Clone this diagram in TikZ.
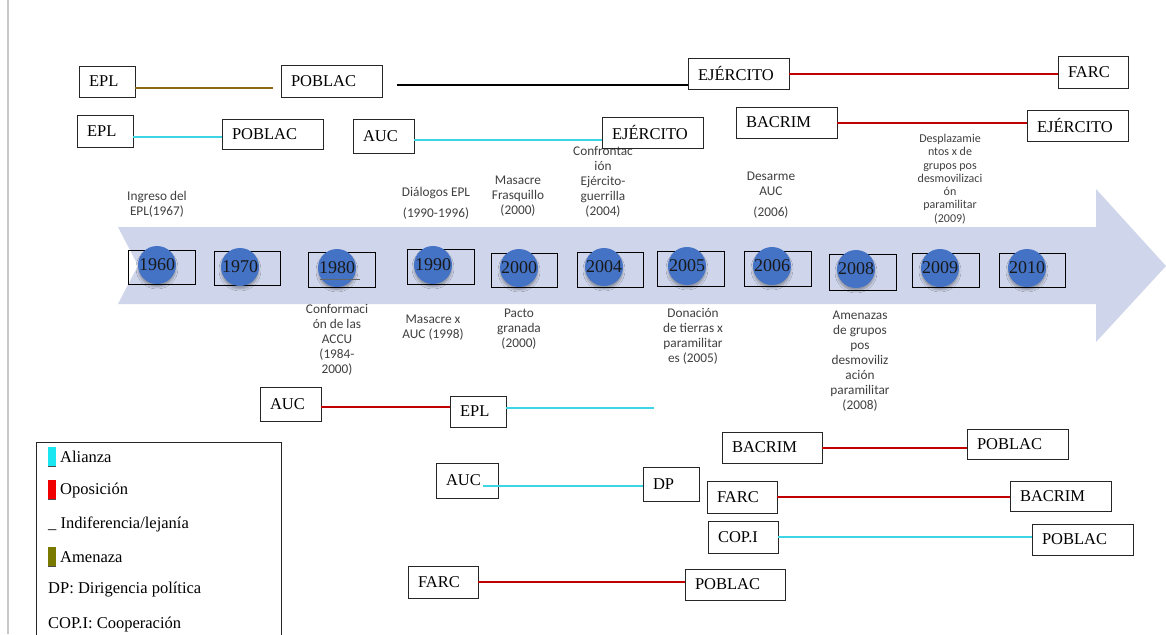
\documentclass[tikz,border=0pt]{standalone}
\usepackage{fontspec}
\setmainfont{Liberation Serif}
\newfontfamily\evfont{Carlito}
\usetikzlibrary{shadows.blur,calc}
\definecolor{alz}{HTML}{3DD5E3}
\definecolor{alzleg}{HTML}{19E6F0}
\definecolor{opo}{HTML}{C00000}
\definecolor{opoleg}{HTML}{F00000}
\definecolor{ame}{HTML}{8B6914}
\definecolor{ameleg}{HTML}{7A7A00}
\definecolor{band}{HTML}{CFD5EA}
\definecolor{ball}{HTML}{4472C4}
\definecolor{evtxt}{HTML}{404040}
\begin{document}
\begin{tikzpicture}[x=1pt,y=-1pt,
  bx/.style={draw=black!85, line width=0.9pt, inner xsep=10pt, inner ysep=0pt, align=left, font=\rmfamily\fontsize{16.5}{18}\selectfont},
  ev/.style={font=\evfont\fontsize{13.3}{15}\selectfont, text=evtxt, align=center, inner sep=0pt},
  evs/.style={font=\evfont\fontsize{12}{13.3}\selectfont, text=evtxt, align=center, inner sep=0pt},
  yrbox/.style={draw=black, line width=0.9pt, inner sep=0pt},
  ballst/.style={circle, fill=ball, minimum size=38pt, inner sep=0pt, font=\rmfamily\fontsize{18}{20}\selectfont, text=black!90,
    blur shadow={shadow xshift=0pt, shadow yshift=-3pt, shadow blur radius=2pt, shadow opacity=30}},
  alzl/.style={draw=alz, line width=2pt},
  opol/.style={draw=opo, line width=2pt},
  amel/.style={draw=ame, line width=2pt},
  indl/.style={draw=black, line width=2pt},
  legt/.style={anchor=west, inner sep=0pt, font=\rmfamily\fontsize{16.5}{18}\selectfont}
]
\useasboundingbox (0,0) rectangle (1166,634);
\fill[white] (0,0) rectangle (1166,634);
\clip (0,0) rectangle (1166,634);

% left page line
\draw[black!22, line width=1.5pt] (8,0) -- (8,634);

% timeline band
\fill[band] (118,227) -- (1096,227) -- (1096,189) -- (1166,266) -- (1096,342) -- (1096,304) -- (118,304) -- (138,265.5) -- cycle;

% year boxes
\node[yrbox, minimum width=67pt, minimum height=34pt] (b1960) at (161.5,267) {};
\node[yrbox, minimum width=66pt, minimum height=34pt] (b1970) at (247,268) {};
\node[yrbox, minimum width=67pt, minimum height=35pt] (b1980) at (341.5,269.5) {};
\node[yrbox, minimum width=67pt, minimum height=35pt] (b1990) at (440.5,266.5) {};
\node[yrbox, minimum width=66pt, minimum height=34pt] (b2000) at (524,270) {};
\node[yrbox, minimum width=66pt, minimum height=35pt] (b2004) at (610,269.5) {};
\node[yrbox, minimum width=67pt, minimum height=35pt] (b2005) at (690.5,268.5) {};
\node[yrbox, minimum width=67pt, minimum height=35pt] (b2006) at (777.5,268.5) {};
\node[yrbox, minimum width=67pt, minimum height=36pt] (b2008) at (862.5,272) {};
\node[yrbox, minimum width=67pt, minimum height=34pt] (b2009) at (945.5,270) {};
\node[yrbox, minimum width=66pt, minimum height=34pt] (b2010) at (1032,270) {};

% year balls
\node[ballst] (c1960) at (157,265) {1960};
\node[ballst] (c1970) at (240,267) {1970};
\node[ballst] (c1980) at (337,268) {1980};
\node[ballst] (c1990) at (433,265) {1990};
\node[ballst] (c2000) at (519,268) {2000};
\node[ballst] (c2004) at (604,267) {2004};
\node[ballst] (c2005) at (687,266) {2005};
\node[ballst] (c2006) at (772,266) {2006};
\node[ballst] (c2008) at (856,269) {2008};
\node[ballst] (c2009) at (940,268) {2009};
\node[ballst] (c2010) at (1027,268) {2010};
\draw[black!60, line width=0.6pt] (320,279) -- (360,279);

% event labels above
\node[ev] (e1) at (157,204.5) {Ingreso del\\EPL(1967)};
\node[ev] (e2) at (436,203.5) {Diálogos EPL\\[6pt](1990-1996)};
\node[ev] (e3) at (518,196.5) {Masacre\\Frasquillo\\(2000)};
\node[ev] (e4) at (603,182) {Confrontac\\ión\\Ejército-\\guerrilla\\(2004)};
\node[ev] (e5) at (771,195) {Desarme\\AUC\\[6pt](2006)};
\node[evs] (e6) at (950,179) {Desplazamie\\ntos x de\\grupos pos\\desmovilizaci\\ón\\paramilitar\\(2009)};
% event labels below
\node[ev] (e7) at (337,339.5) {Conformaci\\ón de las\\ACCU\\(1984-\\2000)};
\node[ev] (e8) at (433,327.5) {Masacre x\\AUC (1998)};
\node[ev] (e9) at (519,329) {Pacto\\granada\\(2000)};
\node[ev] (e10) at (693,336) {Donación\\de tierras x\\paramilitar\\es (2005)};
\node[ev] (e11) at (860,361) {Amenazas\\de grupos\\pos\\desmoviliz\\ación\\paramilitar\\(2008)};

% actor boxes row 1
\node[bx, text width=36pt, minimum height=31pt] (epla) at (107,81.5) {EPL};
\node[bx, text width=81pt, minimum height=32pt] (poblaca) at (331.5,81) {POBLAC};
\node[bx, text width=81pt, minimum height=31pt] (ejercitoa) at (738.5,73.5) {EJÉRCITO};
\node[bx, text width=50pt, minimum height=32pt] (farca) at (1093,72) {FARC};
% row 2
\node[bx, text width=36pt, minimum height=32pt] (eplb) at (105,131) {EPL};
\node[bx, text width=81pt, minimum height=30pt] (poblacb) at (272.5,134) {POBLAC};
\node[bx, text width=41pt, minimum height=34pt] (aucb) at (383.5,136) {AUC};
\node[bx, text width=81pt, minimum height=31pt] (ejercitob) at (652.5,132.5) {EJÉRCITO};
\node[bx, text width=81pt, minimum height=31pt] (bacrimb) at (786.5,122.5) {BACRIM};
\node[bx, text width=81pt, minimum height=31pt] (ejercitoc) at (1077.5,125.5) {EJÉRCITO};
% bottom
\node[bx, text width=41pt, minimum height=34pt] (aucc) at (290.5,404) {AUC};
\node[bx, text width=36pt, minimum height=31pt] (eplc) at (478,411.5) {EPL};
\node[bx, text width=42pt, minimum height=35pt] (aucd) at (467,480.5) {AUC};
\node[bx, text width=36pt, minimum height=34pt] (dp) at (671,484) {DP};
\node[bx, text width=80pt, minimum height=31pt] (bacrimc) at (772,447.5) {BACRIM};
\node[bx, text width=81pt, minimum height=30pt] (poblacc) at (1017.5,444) {POBLAC};
\node[bx, text width=50pt, minimum height=32pt] (farcc) at (742,497) {FARC};
\node[bx, text width=81pt, minimum height=30pt] (bacrimd) at (1060.5,496) {BACRIM};
\node[bx, text width=50pt, minimum height=32pt] (copi) at (743,537) {COP.I};
\node[bx, text width=81pt, minimum height=31pt] (poblacd) at (1082.5,539.5) {POBLAC};
\node[bx, text width=50pt, minimum height=32pt] (farcd) at (443,582) {FARC};
\node[bx, text width=80pt, minimum height=31pt] (poblace) at (735,584.5) {POBLAC};

% free ends
\coordinate (fa) at (273,88);
\coordinate (fb) at (397,85);
\coordinate (fc) at (654,408);

% connectors
\draw[amel] (epla.east |- fa) -- (fa);
\draw[indl] (fb) -- (fb -| ejercitoa.west);
\draw[opol] (ejercitoa.east) -- (ejercitoa.east -| farca.west);
\draw[alzl] ([yshift=-6pt]eplb.east) -- ([yshift=-6pt]eplb.east -| poblacb.west);
\draw[alzl] ([yshift=-4pt]aucb.east) -- ([yshift=-4pt]aucb.east -| ejercitob.west);
\draw[opol] (bacrimb.east) -- (bacrimb.east -| ejercitoc.west);
\draw[opol] ([yshift=-3pt]aucc.east) -- ([yshift=-3pt]aucc.east -| eplc.west);
\draw[alzl] (eplc.east |- fc) -- (fc);
\draw[alzl] ([xshift=-15pt,yshift=-5.5pt]aucd.east) -- ([yshift=-5.5pt]aucd.east -| dp.west);
\draw[opol] (bacrimc.east) -- (bacrimc.east -| poblacc.west);
\draw[opol] (farcc.east) -- (farcc.east -| bacrimd.west);
\draw[alzl] (copi.east) -- (copi.east -| poblacd.west);
\draw[opol] (farcd.east) -- (farcd.east -| poblace.west);

% legend
\draw[black!85, line width=0.9pt] (36,640) -- (36,442) -- (281,442) -- (281,640);
\fill[alzleg] (48,447) rectangle (56,466);
\draw[black!70, line width=0.8pt] (48,466) -- (56,466);
\node[legt] (l1) at (60,457) {Alianza};
\fill[opoleg] (48,480) rectangle (56,499);
\draw[black!70, line width=0.8pt] (48,499) -- (56,499);
\node[legt] (l2) at (60,491) {Oposición};
\node[legt] (l3) at (48,524) {\_ Indiferencia/lejanía};
\fill[ameleg] (48,547) rectangle (56,566);
\draw[black!70, line width=0.8pt] (48,566) -- (56,566);
\node[legt] (l4) at (60,557) {Amenaza};
\node[legt] (l5) at (48,590) {DP: Dirigencia política};
\node[legt] (l6) at (48,625) {COP.I: Cooperación};
\end{tikzpicture}
\end{document}
